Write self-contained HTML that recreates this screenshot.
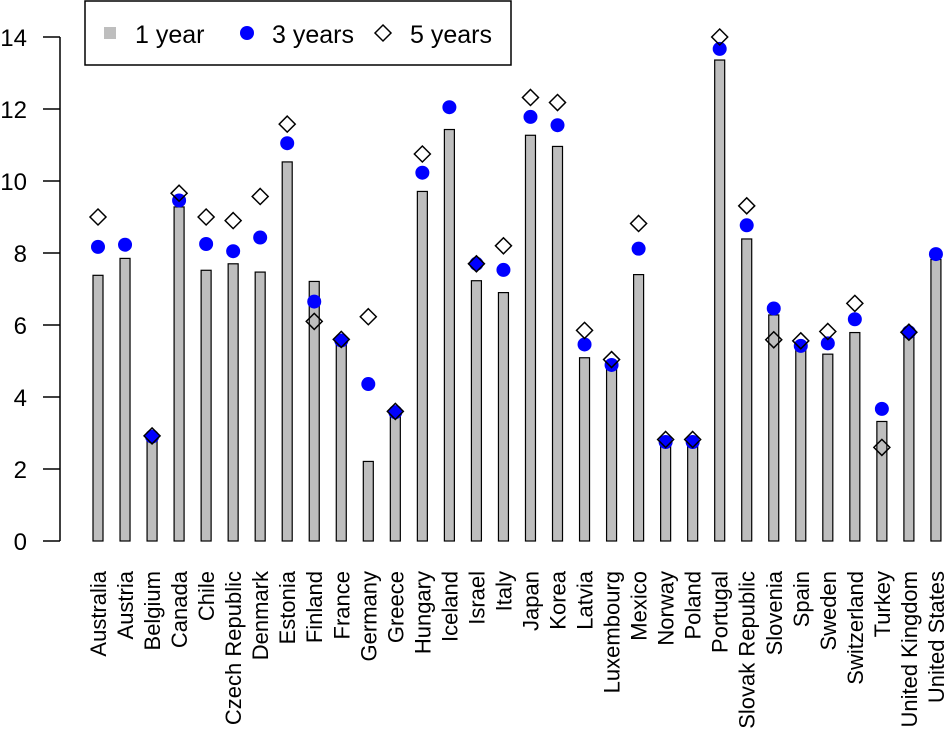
<!DOCTYPE html>
<html><head><meta charset="utf-8"><style>
html,body{margin:0;padding:0;background:#fff}
svg{display:block;font-family:"Liberation Sans",Arial,sans-serif}
</style></head><body>
<svg id="chart" width="945" height="734" viewBox="0 0 945 734" xmlns="http://www.w3.org/2000/svg">
<g id="axis"></g>
<g id="bars"></g>
<g id="dots"></g>
<g id="diamonds"></g>
<g id="xlabels"></g>
<g>
  <rect x="85" y="1" width="426" height="64" fill="#fff" stroke="#000" stroke-width="1.5"/>
  <rect x="104" y="27" width="12" height="12" fill="#bebebe"/>
  <text x="135" y="43" font-size="25">1 year</text>
  <circle cx="247" cy="33" r="7" fill="#0000ff"/>
  <text x="272" y="43" font-size="25">3 years</text>
  <path d="M383 25 L391 33 L383 41 L375 33 Z" fill="#fff" stroke="#000" stroke-width="1.5"/>
  <text x="410" y="43" font-size="25">5 years</text>
</g>
</svg>
<script>
const countries = ["Australia","Austria","Belgium","Canada","Chile","Czech Republic","Denmark","Estonia","Finland","France","Germany","Greece","Hungary","Iceland","Israel","Italy","Japan","Korea","Latvia","Luxembourg","Mexico","Norway","Poland","Portugal","Slovak Republic","Slovenia","Spain","Sweden","Switzerland","Turkey","United Kingdom","United States"];
const oneYear = [7.38,7.85,2.9,9.28,7.52,7.70,7.47,10.53,7.21,5.54,2.21,3.5,9.71,11.43,7.23,6.90,11.27,10.96,5.09,4.79,7.40,2.72,2.72,13.36,8.39,6.28,5.39,5.19,5.79,3.32,5.69,7.82];
const threeYears = [8.17,8.23,2.9,9.46,8.25,8.05,8.43,11.05,6.65,5.57,4.36,3.58,10.23,12.05,7.70,7.53,11.78,11.55,5.46,4.89,8.12,2.75,2.75,13.67,8.77,6.46,5.42,5.49,6.16,3.67,5.80,7.97];
const fiveYears = [9.0,null,2.92,9.66,9.0,8.9,9.57,11.58,6.10,5.6,6.23,3.6,10.75,null,7.70,8.2,12.32,12.18,5.85,5.04,8.82,2.82,2.82,14.0,9.31,5.59,5.56,5.82,6.6,2.60,5.80,null];
const yTicks = [0,2,4,6,8,10,12,14];

const NS = "http://www.w3.org/2000/svg";
const y = v => 541 - 36 * v;
const x = i => 98 + i * 27.03;
function mk(tag, attrs, parent) {
  const e = document.createElementNS(NS, tag);
  for (const k in attrs) e.setAttribute(k, attrs[k]);
  parent.appendChild(e);
  return e;
}
const ax = document.getElementById("axis");
const axl = mk("line", {x1:60, x2:60, y1:y(0), y2:y(14), stroke:"#000", "stroke-width":1.5}, ax);


yTicks.forEach(t => {
  const tk = mk("line", {x1:43, x2:60, y1:y(t), y2:y(t), stroke:"#000", "stroke-width":1.5}, ax);
  
  
  const tx = mk("text", {x:27, y:y(t)+9, "font-size":24, "text-anchor":"end"}, ax);
  tx.textContent = t;
  
  
});
const bg = document.getElementById("bars"), dg = document.getElementById("dots"), fg = document.getElementById("diamonds"), lg = document.getElementById("xlabels");
countries.forEach((c, i) => {
  const cx = x(i);
  const b = mk("rect", {x:cx-5, y:y(oneYear[i]), width:10, height:y(0)-y(oneYear[i]), fill:"#bebebe", stroke:"#000", "stroke-width":1.2}, bg);
  
  
  const d = mk("circle", {cx:cx, cy:y(threeYears[i]), r:7, fill:"#0000ff"}, dg);
  
  
  if (fiveYears[i] !== null) {
    const py = y(fiveYears[i]);
    const p = mk("path", {d:`M${cx} ${py-8} L${cx+8} ${py} L${cx} ${py+8} L${cx-8} ${py} Z`, fill:"none", stroke:"#000", "stroke-width":1.5}, fg);
    
    
  }
  const t = mk("text", {x:0, y:0, "font-size":22, "text-anchor":"end", transform:`translate(${cx+8},571) rotate(-90)`}, lg);
  t.textContent = c;
  
  
});
</script>
</body></html>
